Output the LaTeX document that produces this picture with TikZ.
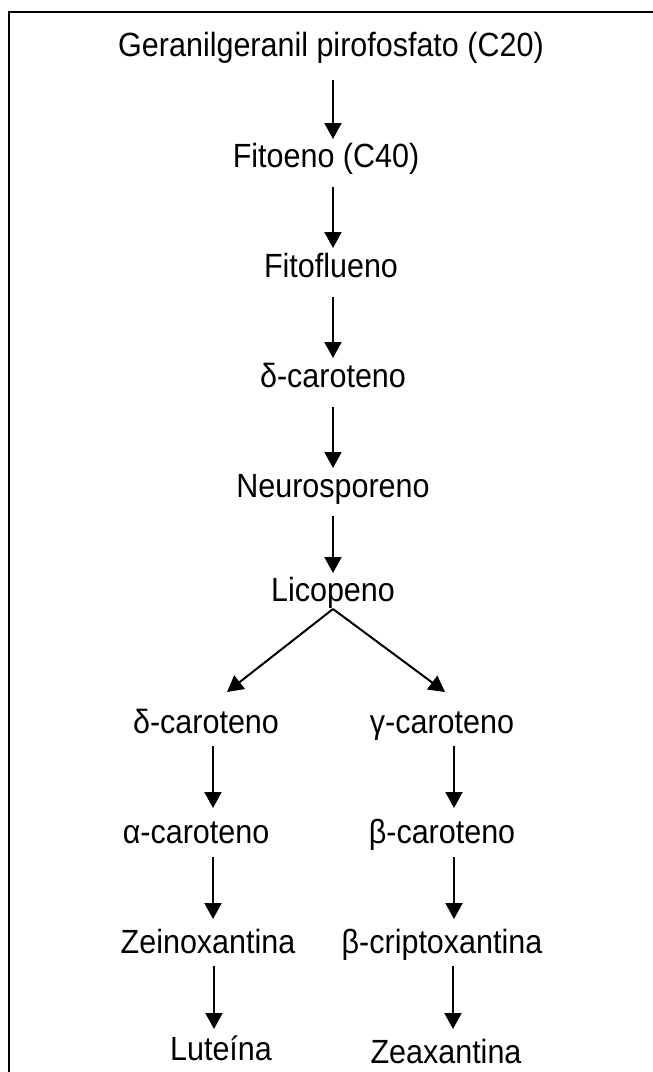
\documentclass[tikz,border=0pt]{standalone}
\usepackage{fontspec}
\setmainfont{Liberation Sans}
\usetikzlibrary{arrows.meta,calc}
\newcommand{\tall}[1]{\scalebox{1}[1.1]{#1}}
\tikzset{
  lbl/.style={inner sep=0pt, anchor=base, font=\fontsize{30.5}{36}\selectfont},
  arr/.style={line width=2pt, -{Triangle[length=16pt,width=17pt]}},
  frame/.style={line width=2pt}
}
\begin{document}
\begin{tikzpicture}[x=1pt,y=-1pt]
\useasboundingbox (0,0) rectangle (653,1072);
\draw[frame] (9,1072) -- (9,12) -- (653,12);
% main column
\node[lbl] (ggpp) at (331,56) {\tall{Geranilgeranil pirofosfato (C20)}};
\node[lbl] (fit) at (326,167) {\tall{Fitoeno (C40)}};
\node[lbl] (fitf) at (331,277) {\tall{Fitoflueno}};
\node[lbl] (dcar) at (333,387) {\tall{δ-caroteno}};
\node[lbl] (neu) at (333,497) {\tall{Neurosporeno}};
\node[lbl] (lic) at (333,601) {\tall{Licopeno}};
% left branch
\node[lbl] (dcarl) at (206,733) {\tall{δ-caroteno}};
\node[lbl] (acar) at (196,843) {\tall{α-caroteno}};
\node[lbl] (zei) at (208,953) {\tall{Zeinoxantina}};
\node[lbl] (lut) at (221,1060) {\tall{Luteína}};
% right branch
\node[lbl] (gcar) at (442,733) {\tall{γ-caroteno}};
\node[lbl] (bcar) at (442,843) {\tall{β-caroteno}};
\node[lbl] (bcri) at (442,953) {\tall{β-criptoxantina}};
\node[lbl] (zea) at (446,1063) {\tall{Zeaxantina}};
% connectors
\draw[arr] ($(ggpp.base)+(2,24)$) -- ($(fit.base)+(7,-28)$);
\draw[arr] ($(fit.base)+(7,20)$) -- ($(fitf.base)+(2,-29)$);
\draw[arr] ($(fitf.base)+(2,20)$) -- ($(dcar.base)+(0,-29)$);
\draw[arr] ($(dcar.base)+(0,20)$) -- ($(neu.base)+(0,-29)$);
\draw[arr] ($(neu.base)+(0,19)$) -- ($(lic.base)+(0,-28)$);
\draw[arr] ($(lic.base)+(0,8)$) -- ($(dcarl.base)+(21,-41)$);
\draw[arr] ($(lic.base)+(0,8)$) -- ($(gcar.base)+(3,-41)$);
\draw[arr] ($(dcarl.base)+(7,13)$) -- ($(acar.base)+(17,-35)$);
\draw[arr] ($(acar.base)+(17,14)$) -- ($(zei.base)+(5,-34)$);
\draw[arr] ($(zei.base)+(6,13)$) -- ($(lut.base)+(-7,-31)$);
\draw[arr] ($(gcar.base)+(12,13)$) -- ($(bcar.base)+(12,-35)$);
\draw[arr] ($(bcar.base)+(12,14)$) -- ($(bcri.base)+(12,-34)$);
\draw[arr] ($(bcri.base)+(11,13)$) -- ($(zea.base)+(7,-34)$);
\end{tikzpicture}
\end{document}
